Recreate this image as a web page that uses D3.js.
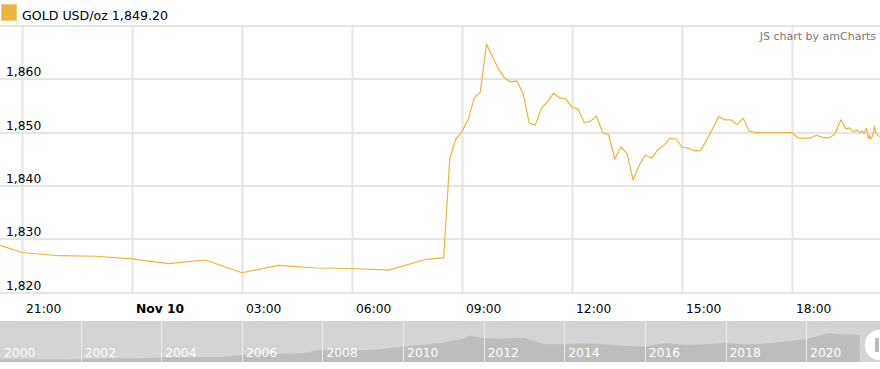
<!DOCTYPE html>
<html>
<head>
<meta charset="utf-8">
<script src="https://cdn.jsdelivr.net/npm/d3@7"></script>
<style>
  html, body { margin: 0; padding: 0; background: #fff; }
  svg { display: block; font-family: "DejaVu Sans", Verdana, sans-serif; }
</style>
</head>
<body>
<svg id="chart" width="880" height="369"></svg>
<script>
// ---- data ----
const times = [
  "2020-11-09 20:00","2020-11-09 21:00","2020-11-09 22:00","2020-11-09 23:00",
  "2020-11-10 00:00","2020-11-10 01:00","2020-11-10 02:00","2020-11-10 03:00",
  "2020-11-10 04:00","2020-11-10 05:00","2020-11-10 06:00","2020-11-10 07:00",
  "2020-11-10 08:00","2020-11-10 08:30","2020-11-10 08:40","2020-11-10 08:50",
  "2020-11-10 09:00","2020-11-10 09:10","2020-11-10 09:20","2020-11-10 09:30",
  "2020-11-10 09:40","2020-11-10 09:50","2020-11-10 10:00","2020-11-10 10:10",
  "2020-11-10 10:20","2020-11-10 10:30","2020-11-10 10:40","2020-11-10 10:50",
  "2020-11-10 11:00","2020-11-10 11:10","2020-11-10 11:20","2020-11-10 11:30",
  "2020-11-10 11:40","2020-11-10 11:50","2020-11-10 12:00","2020-11-10 12:10",
  "2020-11-10 12:20","2020-11-10 12:30","2020-11-10 12:40","2020-11-10 12:50",
  "2020-11-10 13:00","2020-11-10 13:10","2020-11-10 13:20","2020-11-10 13:30",
  "2020-11-10 13:40","2020-11-10 13:50","2020-11-10 14:00","2020-11-10 14:10",
  "2020-11-10 14:20","2020-11-10 14:30","2020-11-10 14:40","2020-11-10 14:50",
  "2020-11-10 15:00","2020-11-10 15:10","2020-11-10 15:20","2020-11-10 15:30",
  "2020-11-10 15:40","2020-11-10 15:50","2020-11-10 16:00","2020-11-10 16:10",
  "2020-11-10 16:20","2020-11-10 16:30","2020-11-10 16:40","2020-11-10 16:50",
  "2020-11-10 17:00","2020-11-10 17:30","2020-11-10 18:00","2020-11-10 18:10",
  "2020-11-10 18:20","2020-11-10 18:30","2020-11-10 18:40","2020-11-10 18:50",
  "2020-11-10 19:00","2020-11-10 19:10","2020-11-10 19:20","2020-11-10 19:28",
  "2020-11-10 19:34","2020-11-10 19:38","2020-11-10 19:42","2020-11-10 19:46",
  "2020-11-10 19:51","2020-11-10 19:55","2020-11-10 19:58","2020-11-10 20:02",
  "2020-11-10 20:05","2020-11-10 20:07","2020-11-10 20:09","2020-11-10 20:12",
  "2020-11-10 20:15","2020-11-10 20:17","2020-11-10 20:20","2020-11-10 20:24"
];
const prices = [
  1829.7,1827.5,1826.9,1826.8,
  1826.3,1825.4,1826.1,1823.7,
  1825.1,1824.6,1824.5,1824.2,
  1826.2,1826.5,1845.1,1848.8,
  1850.2,1852.4,1856.5,1857.6,
  1866.6,1864.2,1861.9,1860.2,
  1859.5,1859.7,1857.3,1851.8,
  1851.4,1854.6,1855.8,1857.4,
  1856.5,1856.3,1854.8,1854.4,
  1851.9,1852.1,1853.1,1850.0,
  1849.6,1845.0,1847.3,1846.1,
  1841.1,1843.9,1845.8,1845.2,
  1846.7,1847.6,1848.9,1848.8,
  1847.3,1847.1,1846.6,1846.6,
  1848.5,1850.7,1853.0,1852.4,
  1852.4,1851.5,1852.7,1850.3,
  1850.0,1850.0,1850.0,1849.0,
  1848.9,1849.0,1849.5,1849.1,
  1849.0,1849.7,1852.4,1850.7,
  1850.9,1850.3,1850.2,1850.5,
  1850.0,1850.3,1849.9,1850.8,
  1848.9,1849.5,1848.8,1849.4,
  1851.2,1850.0,1849.5,1849.2
];
const yTicks = [1820, 1830, 1840, 1850, 1860, 1870];
const xTickTimes = ["2020-11-09 21:00","2020-11-10 00:00","2020-11-10 03:00","2020-11-10 06:00",
                    "2020-11-10 09:00","2020-11-10 12:00","2020-11-10 15:00","2020-11-10 18:00"];
const xTickLabels = ["21:00","Nov 10","03:00","06:00","09:00","12:00","15:00","18:00"];
const seriesName = "GOLD USD/oz";
const lastValue = "1,849.20";

// scrollbar history (gold price, semi-annual)
const scrollDates = [
  "2000-01","2000-07","2001-01","2001-07","2002-01","2002-07","2003-01","2003-07",
  "2004-01","2004-07","2005-01","2005-07","2006-01","2006-07","2007-01","2007-07",
  "2008-01","2008-07","2009-01","2009-07","2010-01","2010-07","2011-01","2011-07",
  "2011-09","2012-01","2012-07","2013-01","2013-07","2014-01","2014-07","2015-01",
  "2015-07","2016-01","2016-07","2017-01","2017-07","2018-01","2018-07","2019-01",
  "2019-07","2020-01","2020-08","2020-11","2021-05"
];
const scrollPrices = [
  285,285,265,270,285,310,345,350,
  410,395,425,430,550,630,640,670,
  900,900,860,940,1100,1220,1360,1600,
  1800,1650,1600,1660,1250,1240,1310,1250,
  1130,1100,1330,1190,1250,1330,1230,1290,
  1420,1560,1970,1880,1860
];
const scrollYears = ["2000","2002","2004","2006","2008","2010","2012","2014","2016","2018","2020"];

// ---- drawing ----
const W = 880;
const svg = d3.select("#chart");
const parseT = d3.timeParse("%Y-%m-%d %H:%M");
const parseM = d3.timeParse("%Y-%m");
const data = times.map((t, i) => ({ t: parseT(t), v: prices[i] }));

const x = d3.scaleTime()
  .domain([parseT("2020-11-09 20:24"), parseT("2020-11-10 20:24")])
  .range([0, W]);
const y = d3.scaleLinear().domain([1820, 1870]).range([292.5, 26]);

const gold = "#e8b63d";
const gridColor = "#e6e6e6";

// clip
svg.append("defs").append("clipPath").attr("id", "plotClip")
  .append("rect").attr("x", 0).attr("y", 20).attr("width", W).attr("height", 280);

// horizontal grid
svg.append("g").selectAll("line").data(yTicks).join("line")
  .attr("x1", 0).attr("x2", W)
  .attr("y1", d => Math.round(y(d))).attr("y2", d => Math.round(y(d)))
  .attr("stroke", gridColor).attr("stroke-width", 2);

// vertical grid
const xTicks = xTickTimes.map(parseT);
svg.append("g").selectAll("line").data(xTicks).join("line")
  .attr("x1", d => Math.round(x(d)) + 0.5).attr("x2", d => Math.round(x(d)) + 0.5)
  .attr("y1", y(1870)).attr("y2", y(1820))
  .attr("stroke", gridColor).attr("stroke-width", 2);

// y labels
svg.append("g").selectAll("text").data(yTicks.filter(d => d < 1870)).join("text")
  .attr("x", 6).attr("y", d => y(d) - 3)
  .attr("font-size", 12.3).attr("fill", "#000")
  .text(d => d3.format(",")(d));

// x labels
svg.append("g").selectAll("text").data(xTicks).join("text")
  .attr("x", d => x(d) + 4).attr("y", 313)
  .attr("font-size", 12.3).attr("fill", "#000")
  .attr("font-weight", (d, i) => xTickLabels[i] === "Nov 10" ? "bold" : "normal")
  .text((d, i) => xTickLabels[i]);

// line
svg.append("path").datum(data)
  .attr("clip-path", "url(#plotClip)")
  .attr("fill", "none").attr("stroke", gold).attr("stroke-width", 1.2)
  .attr("stroke-linejoin", "round")
  .attr("d", d3.line().x(d => x(d.t)).y(d => y(d.v)));

// legend
svg.append("rect").attr("x", 1.5).attr("y", 4.5).attr("width", 15).attr("height", 16)
  .attr("fill", gold).attr("stroke", "#f0cf7c").attr("stroke-width", 1);
svg.append("text").attr("x", 22).attr("y", 19.5).attr("font-size", 12.6).attr("fill", "#000")
  .text(seriesName + " " + lastValue);

// credit
svg.append("text").attr("x", 876).attr("y", 40).attr("text-anchor", "end")
  .attr("font-size", 11).attr("fill", "#666").attr("fill-opacity", 0.9)
  .text("JS chart by amCharts");

// ---- scrollbar ----
const sbTop = 321, sbBottom = 362;
const sx = d3.scaleTime().domain([parseM("2000-01"), parseM("2021-11")]).range([0, W]);
const sy = d3.scaleLinear().domain([200, 2000]).range([360.5, 332.5]);
const sb = svg.append("g");
sb.append("rect").attr("x", 0).attr("y", sbTop).attr("width", W).attr("height", sbBottom - sbTop)
  .attr("fill", "#d4d4d4");
const sData = scrollDates.map((d, i) => ({ t: parseM(d), v: scrollPrices[i] }));
sb.append("path").datum(sData)
  .attr("fill", "#bdbdbd")
  .attr("d", d3.area().x(d => sx(d.t)).y0(sbBottom).y1(d => sy(d.v)));
const yearDates = scrollYears.map(yv => parseM(yv + "-01"));
sb.selectAll("line.sep").data(yearDates.slice(1)).join("line")
  .attr("x1", d => Math.round(sx(d)) + 0.5).attr("x2", d => Math.round(sx(d)) + 0.5)
  .attr("y1", sbTop).attr("y2", sbBottom)
  .attr("stroke", "#ececec").attr("stroke-width", 1);
sb.selectAll("text").data(yearDates).join("text")
  .attr("x", d => sx(d) + 4).attr("y", 357)
  .attr("font-size", 12.3).attr("fill", "#fff")
  .text((d, i) => scrollYears[i]);
// handle
sb.append("rect").attr("x", 864).attr("y", 329).attr("width", 34).attr("height", 32).attr("rx", 16)
  .attr("fill", "#fff").attr("stroke", "#cfcfcf").attr("stroke-width", 1);
sb.append("rect").attr("x", 875).attr("y", 338).attr("width", 4).attr("height", 14)
  .attr("fill", "#bbb");
</script>
</body>
</html>
